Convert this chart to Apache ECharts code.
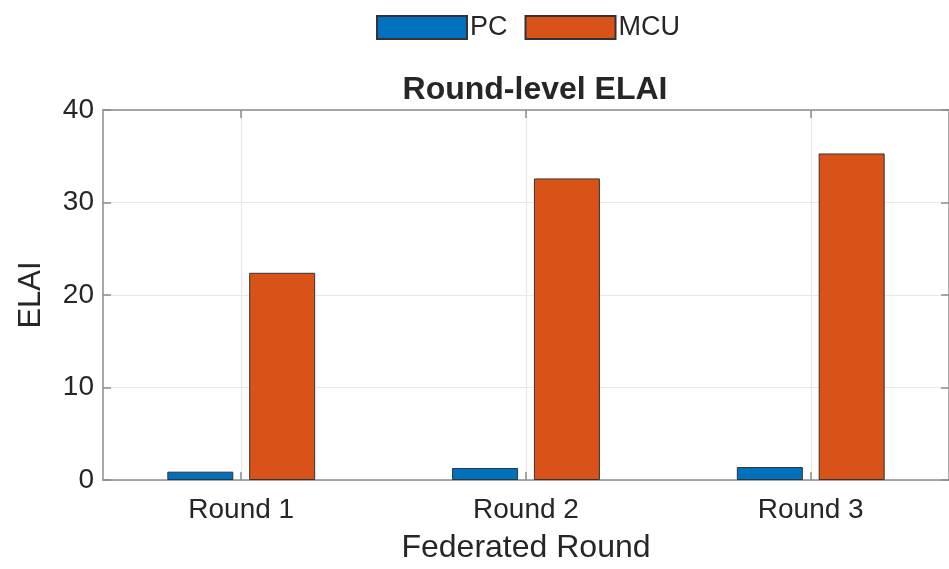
<!DOCTYPE html>
<html>
<head>
<meta charset="utf-8">
<script src="https://cdn.jsdelivr.net/npm/echarts@6/dist/echarts.min.js"></script>
<style>
html,body{margin:0;padding:0;background:#fff;}
#chart{width:949px;height:569px;}
</style>
</head>
<body>
<div id="chart"></div>
<script>
const categories = ['Round 1', 'Round 2', 'Round 3'];
const categoryPositions = [1, 2, 3];
const pcValues = [0.9, 1.3, 1.4];
const mcuValues = [22.4, 32.6, 35.3];
const yTicks = [0, 10, 20, 30, 40];

const font = 'Liberation Sans, Arial, Helvetica, sans-serif';
const textColor = '#262626';
const axisColor = '#8c8c8c';
const gridColor = '#e8e8e8';

const chart = echarts.init(document.getElementById('chart'), null, {renderer: 'canvas'});

function xAxisBase(pos, showLabels) {
  return {
    type: 'value',
    position: pos,
    min: 0.5145,
    max: 3.4855,
    axisLine: {show: true, onZero: false, lineStyle: {color: axisColor, width: 1.5}},
    axisTick: {show: true, inside: true, length: 8, customValues: categoryPositions, lineStyle: {color: axisColor, width: 1.5}},
    axisLabel: showLabels ? {
      show: true,
      customValues: categoryPositions,
      formatter: v => categories[Math.round(v) - 1] || '',
      fontSize: 28, fontFamily: font, color: textColor, margin: 16
    } : {show: false},
    splitLine: {show: showLabels, customValues: categoryPositions, lineStyle: {color: gridColor, width: 1.2}},
    name: showLabels ? 'Federated Round' : '',
    nameLocation: 'middle',
    nameGap: 52,
    nameTextStyle: {fontSize: 32, fontFamily: font, color: textColor}
  };
}

function yAxisBase(pos, showLabels) {
  return {
    type: 'value',
    position: pos,
    min: yTicks[0],
    max: yTicks[yTicks.length - 1],
    interval: 10,
    axisLine: {show: true, lineStyle: {color: axisColor, width: 1.5}},
    axisTick: {show: true, inside: true, length: 8, lineStyle: {color: axisColor, width: 1.5}},
    axisLabel: showLabels ? {show: true, fontSize: 28, fontFamily: font, color: textColor, margin: 9} : {show: false},
    splitLine: {show: showLabels, lineStyle: {color: gridColor, width: 1.2}},
    name: showLabels ? 'ELAI' : '',
    nameLocation: 'middle',
    nameGap: 56,
    nameTextStyle: {fontSize: 31, fontFamily: font, color: textColor}
  };
}

const option = {
  backgroundColor: '#ffffff',
  animation: false,
  title: {
    text: 'Round-level ELAI',
    left: 530,
    textAlign: 'center',
    top: 69,
    textStyle: {fontSize: 32, fontWeight: 'bold', fontFamily: font, color: textColor}
  },
  legend: {
    top: 9,
    left: 371,
    itemWidth: 90,
    itemHeight: 23,
    itemGap: 17,
    icon: 'rect',
    textStyle: {fontSize: 27, fontFamily: font, color: textColor, padding: [0, 0, 0, -2]},
    data: ['PC', 'MCU']
  },
  grid: {left: 103, top: 110, width: 849, height: 377.3, containLabel: false},
  xAxis: [xAxisBase('bottom', true), xAxisBase('top', false)],
  yAxis: [yAxisBase('left', true), yAxisBase('right', false)],
  series: [
    {
      name: 'PC',
      type: 'bar',
      xAxisIndex: 0, yAxisIndex: 0,
      barWidth: 66,
      barGap: '24%',
      itemStyle: {color: '#0072BD', borderColor: '#333333', borderWidth: 1},
      data: categoryPositions.map((x, i) => [x, pcValues[i]])
    },
    {
      name: 'MCU',
      type: 'bar',
      xAxisIndex: 0, yAxisIndex: 0,
      barWidth: 66,
      barGap: '24%',
      itemStyle: {color: '#D95319', borderColor: '#333333', borderWidth: 1},
      data: categoryPositions.map((x, i) => [x, mcuValues[i]])
    }
  ]
};
chart.setOption(option);
</script>
</body>
</html>
